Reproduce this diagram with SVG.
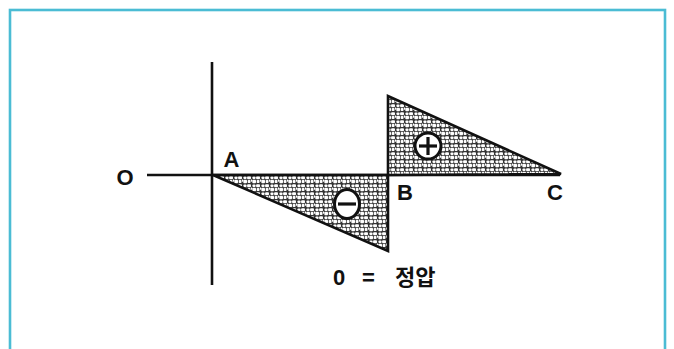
<svg xmlns="http://www.w3.org/2000/svg" width="674" height="349" viewBox="0 0 674 349">
  <defs>
    <pattern id="stipple" width="9" height="8" patternUnits="userSpaceOnUse">
      <rect width="9" height="8" fill="#333"/>
      <rect x="0.5" y="0.5" width="3.0" height="2.5" rx="0.8" fill="#fff"/>
      <rect x="4.1" y="0.3" width="3.9" height="2.9" rx="0.9" fill="#fff"/>
      <rect x="0.3" y="3.7" width="3.7" height="3.5" rx="0.9" fill="#fff"/>
      <rect x="4.7" y="3.9" width="2.8" height="3.2" rx="0.8" fill="#fff"/>
      <rect x="8.0" y="3.5" width="1.0" height="2.2" fill="#fff"/>
    </pattern>
    <style>
      .ln { stroke: #111; stroke-width: 2.6; fill: none; stroke-linecap: butt; }
      .tri { fill: url(#stipple); stroke: #111; stroke-width: 2.6; stroke-linejoin: miter; }
      .sign { fill: #fff; stroke: #111; stroke-width: 3; }
      .mark { stroke: #111; stroke-width: 3.2; stroke-linecap: butt; }
      .lbl { font-family: "Liberation Sans", Arial, sans-serif; font-weight: bold; font-size: 22px; fill: #111; text-anchor: middle; }
      .kr { font-family: "Liberation Sans", "Noto Sans CJK KR", sans-serif; font-weight: bold; font-size: 22px; fill: #111; }
    </style>
  </defs>
  <rect width="674" height="349" fill="#fff"/>
  <rect id="frame" x="10" y="10" width="655" height="350" fill="none" stroke="#4bbcd4" stroke-width="2.6"/>

  <g id="connectors">
    <line id="vertical-axis" class="ln" x1="212" y1="62" x2="212" y2="285"/>
    <line id="horizontal-axis" class="ln" x1="147" y1="175" x2="560" y2="175"/>
  </g>

  <g id="neg-triangle">
    <polygon class="tri" points="213,175 388,175 388,251"/>
    <ellipse class="sign" cx="347" cy="204" rx="12.5" ry="14.5"/>
    <line class="mark" x1="338" y1="204" x2="356" y2="204"/>
  </g>

  <g id="pos-triangle">
    <polygon class="tri" points="388,96 388,175 561,174"/>
    <circle class="sign" cx="428" cy="146" r="13"/>
    <line class="mark" x1="419" y1="146" x2="437" y2="146"/>
    <line class="mark" x1="428" y1="137" x2="428" y2="155"/>
  </g>

  <g id="label-O"><text class="lbl" x="125" y="185" font-size="23">O</text></g>
  <g id="label-A"><text class="lbl" x="231.5" y="167" font-size="21">A</text></g>
  <g id="label-B"><text class="lbl" x="405" y="200">B</text></g>
  <g id="label-C"><text class="lbl" x="555" y="200">C</text></g>
  <g id="legend">
    <text class="kr" y="285"><tspan x="333">0</tspan><tspan x="362">=</tspan><tspan x="395">정압</tspan></text>
  </g>
</svg>
